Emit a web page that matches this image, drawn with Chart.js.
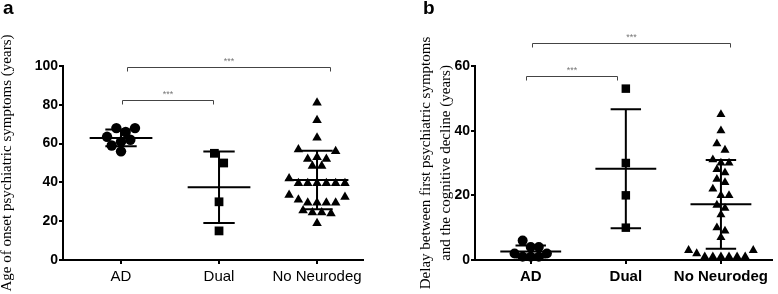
<!DOCTYPE html>
<html>
<head>
<meta charset="utf-8">
<script src="https://cdn.jsdelivr.net/npm/chart.js@4.4.1/dist/chart.umd.min.js"></script>
<style>
  html, body { margin: 0; padding: 0; background: #fff; }
  #wrap { position: relative; width: 778px; height: 294px; overflow: hidden; }
  canvas { position: absolute; top: 0; }
  #chartA { left: 0; }
  #chartB { left: 390px; }
  .tag { position: absolute; top: -3px; font: bold 19px "Liberation Sans", Arial, sans-serif; color: #000; }
</style>
</head>
<body>
<div id="wrap">
  <canvas id="chartA" width="390" height="294"></canvas>
  <canvas id="chartB" width="388" height="294"></canvas>
  <div class="tag" style="left:3px">a</div>
  <div class="tag" style="left:423px">b</div>
</div>
<script>
const categories = ["AD", "Dual", "No Neurodeg"];

// panel a - age of onset of psychiatric symptoms (years)
const onsetAD = [68, 66, 68, 61, 63.5, 62, 59, 56];
const onsetDual = [55, 50, 30, 15];
const onsetNoNeuro = [81, 72, 63, 57, 56, 53, 52, 52, 48.5, 48.5, 42, 39.5, 39.5, 39.5, 39.5, 39.5, 39.5,
  32.5, 33.5, 29.5, 29.5, 29.5, 29.5, 31, 25.5, 24.5, 24, 24.5, 19];
const onsetTicks = [0, 20, 40, 60, 80, 100];
const onsetBrackets = [
  { from: 0.01, to: 0.94, y: 82.5, text: "***" },
  { from: 0.06, to: 2.13, y: 99.6, text: "***" }
];

// panel b - delay between first psychiatric symptoms and cognitive decline (years)
const delayAD = [4, 6, 4, 2, 2, 1, 1, 1];
const delayDual = [53, 30, 20, 10];
const delayNoNeuro = [45, 40, 36, 34, 31, 30, 30, 28, 27, 25, 24, 22, 20, 20, 17, 16, 14, 10, 9, 7,
  3, 3, 2, 1, 1, 1, 1, 1, 1];
const delayTicks = [0, 20, 40, 60];
const delayBrackets = [
  { from: -0.05, to: 0.91, y: 56.8, text: "***" },
  { from: 0.01, to: 2.1, y: 67.2, text: "***" }
];

const sansFont = '"Liberation Sans", Arial, sans-serif';
const serifFont = '"Liberation Serif", "Times New Roman", serif';

function mean(a) { return a.reduce((s, v) => s + v, 0) / a.length; }
function sd(a) {
  const m = mean(a);
  return Math.sqrt(a.reduce((s, v) => s + (v - m) * (v - m), 0) / (a.length - 1));
}

// dot plot layout: close values share a row, row is centred on the category
function spread(values, cat, rowHeight, step) {
  const sorted = values.slice().sort((p, q) => q - p);
  const rows = [];
  let cur = null;
  sorted.forEach(v => {
    if (!cur || cur.top - v > rowHeight) { cur = { top: v, vals: [] }; rows.push(cur); }
    cur.vals.push(v);
  });
  const pts = [];
  rows.forEach(r => {
    const n = r.vals.length;
    const med = r.vals[Math.floor(n / 2)];
    const vals = r.vals.slice().sort((p, q) => Math.abs(p - med) - Math.abs(q - med));
    const slots = [];
    for (let k = 0; k < n; k++) slots.push(k - (n - 1) / 2);
    slots.sort((p, q) => Math.abs(p) - Math.abs(q) || q - p);
    vals.forEach((v, i) => pts.push({ x: cat + slots[i] * step, y: v }));
  });
  return pts;
}

function makePanel(canvasId, cfg) {
  const styles = ["circle", "rect", "triangle"];

  const datasets = cfg.groups.map((vals, i) => ({
    data: spread(vals, i, cfg.rowHeight, cfg.step),
    pointStyle: styles[i],
    pointRadius: cfg.radii[i],
    pointHoverRadius: cfg.radii[i],
    backgroundColor: "#000",
    borderColor: "#000",
    borderWidth: 0,
    showLine: false,
    clip: false
  }));

  // mean +/- SD bars and significance brackets, drawn through the chart scales
  const statsPlugin = {
    id: "dotStats",
    afterDatasetsDraw(chart) {
      const { ctx, scales: { x, y } } = chart;
      ctx.save();
      ctx.strokeStyle = "#000";
      ctx.lineWidth = 2;
      cfg.groups.forEach((vals, i) => {
        const m = mean(vals), s = sd(vals);
        const xc = x.getPixelForValue(i);
        const yHi = y.getPixelForValue(m + s), yLo = y.getPixelForValue(Math.max(m - s, 0)), yM = y.getPixelForValue(m);
        const meanL = x.getPixelForValue(i - 0.32), meanR = x.getPixelForValue(i + 0.32);
        const capL = x.getPixelForValue(i - 0.16), capR = x.getPixelForValue(i + 0.16);
        ctx.beginPath();
        ctx.moveTo(xc, yHi); ctx.lineTo(xc, yLo);
        ctx.moveTo(meanL, yM); ctx.lineTo(meanR, yM);
        ctx.moveTo(capL, yHi); ctx.lineTo(capR, yHi);
        if (m - s > 0) { ctx.moveTo(capL, yLo); ctx.lineTo(capR, yLo); }
        ctx.stroke();
      });

      ctx.lineWidth = 1;
      ctx.strokeStyle = "#444";
      ctx.fillStyle = "#777";
      ctx.font = "9px " + sansFont;
      ctx.textAlign = "center";
      ctx.textBaseline = "bottom";
      cfg.brackets.forEach(b => {
        const x1 = Math.round(x.getPixelForValue(b.from)) + 0.5;
        const x2 = Math.round(x.getPixelForValue(b.to)) + 0.5;
        const yy = Math.round(y.getPixelForValue(b.y)) + 0.5;
        ctx.beginPath();
        ctx.moveTo(x1, yy + 4); ctx.lineTo(x1, yy); ctx.lineTo(x2, yy); ctx.lineTo(x2, yy + 4);
        ctx.stroke();
        ctx.fillText(b.text, (x1 + x2) / 2, yy - 1);
      });
      ctx.restore();
    }
  };

  return new Chart(document.getElementById(canvasId), {
    type: "scatter",
    data: { datasets: datasets },
    options: {
      responsive: false,
      devicePixelRatio: 1,
      animation: false,
      events: [],
      layout: { padding: { top: 66, right: cfg.padRight, bottom: 0, left: 0 } },
      plugins: { legend: { display: false }, tooltip: { enabled: false } },
      scales: {
        x: {
          type: "linear",
          min: cfg.xMin,
          max: cfg.xMax,
          afterBuildTicks: s => { s.ticks = categories.map((c, i) => ({ value: i })); },
          afterFit: s => { s.height = 34; },
          ticks: {
            callback: v => categories[v],
            autoSkip: false,
            maxRotation: 0,
            padding: 4,
            color: "#000",
            font: { family: sansFont, size: 15, weight: cfg.xBold ? "bold" : "normal" }
          },
          grid: { drawOnChartArea: false, drawTicks: true, tickLength: 4, color: "#000", lineWidth: 2 },
          border: { display: true, color: "#000", width: 2 }
        },
        y: {
          min: 0,
          max: cfg.yMax,
          afterBuildTicks: s => { s.ticks = cfg.yTicks.map(v => ({ value: v })); },
          afterFit: s => { s.width = cfg.yWidth; },
          ticks: {
            padding: 1,
            color: "#000",
            font: { family: sansFont, size: 14, weight: "bold" }
          },
          grid: { drawOnChartArea: false, drawTicks: true, tickLength: 4, color: "#000", lineWidth: 2 },
          border: { display: true, color: "#000", width: 2 },
          title: {
            display: true,
            text: cfg.yTitle,
            color: "#000",
            padding: { top: cfg.titlePad, bottom: 0 },
            font: { family: serifFont, size: 15, lineHeight: cfg.titleLine }
          }
        }
      }
    },
    plugins: [statsPlugin]
  });
}

makePanel("chartA", {
  groups: [onsetAD, onsetDual, onsetNoNeuro],
  brackets: onsetBrackets,
  yTicks: onsetTicks,
  yMax: 100,
  xMin: -0.592,
  xMax: 2.469,
  yWidth: 63,
  padRight: 27,
  rowHeight: 5,
  step: 0.095,
  radii: [5.2, 6.2, 5.5],
  xBold: false,
  yTitle: "Age of onset psychiatric symptoms (years)",
  titlePad: 0,
  titleLine: 1
});

makePanel("chartB", {
  groups: [delayAD, delayDual, delayNoNeuro],
  brackets: delayBrackets,
  yTicks: delayTicks,
  yMax: 60,
  xMin: -0.586,
  xMax: 2.537,
  yWidth: 85,
  padRight: 1,
  rowHeight: 2.5,
  step: 0.085,
  radii: [5, 6, 5.2],
  xBold: true,
  yTitle: ["Delay between first psychiatric symptoms", "and the cognitive decline (years)"],
  titlePad: 27,
  titleLine: 1.27
});
</script>
</body>
</html>
